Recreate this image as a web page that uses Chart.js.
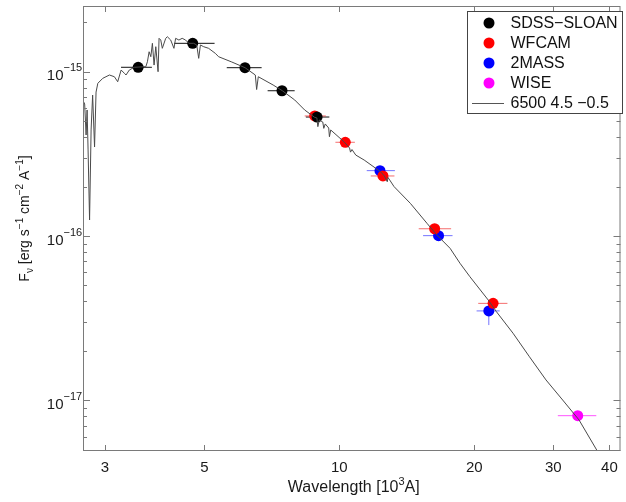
<!DOCTYPE html>
<html>
<head>
<meta charset="utf-8">
<script src="https://cdn.jsdelivr.net/npm/chart.js@4.4.0/dist/chart.umd.min.js"></script>
<style>
html, body { margin: 0; padding: 0; background: #fff; }
#wrap { width: 626px; height: 502px; position: relative; }
</style>
</head>
<body>
<div id="wrap"><canvas id="sed"></canvas></div>
<script>
// wavelengths in 10^3 A, fluxes in erg s^-1 cm^-2 A^-1
const sdssWl   = [3.56, 4.71, 6.16, 7.45, 8.92];
const sdssFlux = [1.064e-15, 1.489e-15, 1.058e-15, 7.66e-16, 5.30e-16];
const sdssLo   = [3.26, 4.28, 5.61, 6.92, 8.42];
const sdssHi   = [3.82, 5.27, 6.71, 7.95, 9.50];

const wfcamWl   = [8.81, 10.31, 12.51, 16.31, 22.02];
const wfcamFlux = [5.38e-16, 3.72e-16, 2.32e-16, 1.107e-16, 3.89e-17];
const wfcamLo   = [8.37, 9.80, 11.75, 15.03, 20.4];
const wfcamHi   = [9.33, 10.83, 13.27, 17.75, 23.7];

const tmassWl     = [12.32, 16.64, 21.54];
const tmassFlux   = [2.50e-16, 1.005e-16, 3.50e-17];
const tmassLo     = [11.51, 15.37, 20.23];
const tmassHi     = [13.3, 17.88, 22.78];
const tmassFluxLo = [2.50e-16, 1.005e-16, 2.87e-17];
const tmassFluxHi = [2.50e-16, 1.005e-16, 4.08e-17];

const wiseWl   = [34.0];
const wiseFlux = [8.06e-18];
const wiseLo   = [30.7];
const wiseHi   = [37.4];

// model spectrum 6500 4.5 -0.5
const modelWl = [2.678, 2.705, 2.725, 2.739, 2.753, 2.774, 2.796, 2.818, 2.846, 2.868,
  2.894, 2.969, 3.072, 3.151, 3.205, 3.262, 3.317, 3.345, 3.402, 3.490,
  3.703, 3.733, 3.766, 3.799, 3.830, 3.863, 3.897, 3.943, 3.963, 3.998,
  4.030, 4.101, 4.135, 4.207, 4.278, 4.315, 4.388, 4.463, 4.541, 4.618,
  4.736, 4.809, 4.858, 4.900, 4.983, 5.111, 5.290, 5.380, 5.756, 6.163,
  6.496, 6.540, 6.596, 7.119, 7.464, 7.953, 8.369, 8.806, 8.910, 8.955,
  9.023, 9.185, 9.232, 9.302, 9.469, 9.504, 9.567, 10.26, 10.54, 10.59,
  10.67, 10.88, 11.36, 12.36, 12.60, 12.79, 12.84, 13.24, 14.40, 15.68,
  16.50, 17.66, 18.58, 19.55, 21.47, 22.40, 24.39, 26.54, 28.89, 31.47,
  34.23, 37.60, 41.28];
const modelFlux = [6.73e-16, 6.36e-16, 4.12e-16, 5.85e-16, 3.34e-16, 1.252e-16, 4.42e-16, 7.21e-16, 3.48e-16, 7.52e-16,
  8.50e-16, 9.12e-16, 9.55e-16, 9.32e-16, 8.69e-16, 1.024e-15, 9.78e-16, 9.55e-16, 1.024e-15, 1.064e-15,
  1.073e-15, 1.150e-15, 1.323e-15, 1.234e-15, 1.489e-15, 1.098e-15, 1.420e-15, 1.00e-15, 1.597e-15, 1.559e-15,
  1.388e-15, 1.597e-15, 1.633e-15, 1.559e-15, 1.388e-15, 1.597e-15, 1.559e-15, 1.597e-15, 1.559e-15, 1.489e-15,
  1.489e-15, 1.454e-15, 1.206e-15, 1.454e-15, 1.420e-15, 1.388e-15, 1.294e-15, 1.234e-15, 1.146e-15, 1.058e-15,
  9.55e-16, 7.79e-16, 9.32e-16, 8.30e-16, 7.66e-16, 6.73e-16, 5.85e-16, 5.28e-16, 5.23e-16, 4.63e-16,
  5.08e-16, 4.94e-16, 4.52e-16, 4.81e-16, 4.54e-16, 4.02e-16, 4.42e-16, 3.73e-16, 3.43e-16, 3.24e-16,
  3.36e-16, 3.11e-16, 2.90e-16, 2.46e-16, 2.32e-16, 2.14e-16, 2.27e-16, 2.00e-16, 1.58e-16, 1.195e-16,
  1.014e-16, 8.41e-17, 6.82e-17, 5.65e-17, 4.08e-17, 3.46e-17, 2.56e-17, 1.84e-17, 1.33e-17, 1.004e-17,
  7.59e-18, 4.91e-18, 3.27e-18];

const xTicks = [3, 5, 10, 20, 30, 40];
const yDecades = [-18, -17, -16, -15];
const yLabelExp = [-17, -16, -15];

const FONT = '"Liberation Sans", Arial, sans-serif';
const AXIS = '#7a7a7a';

function xy(xs, ys) { return xs.map((v, i) => ({x: v, y: ys[i]})); }

const photSets = [
  {name: 'SDSS\u2212SLOAN', color: '#000000', bar: '#111111', wl: sdssWl, flux: sdssFlux, lo: sdssLo, hi: sdssHi},
  {name: 'WFCAM', color: '#ff0000', bar: 'rgba(240,60,60,0.75)', wl: wfcamWl, flux: wfcamFlux, lo: wfcamLo, hi: wfcamHi},
  {name: '2MASS', color: '#0000ff', bar: 'rgba(70,70,255,0.75)', wl: tmassWl, flux: tmassFlux, lo: tmassLo, hi: tmassHi,
    fLo: tmassFluxLo, fHi: tmassFluxHi},
  {name: 'WISE', color: '#ff00ff', bar: 'rgba(255,40,255,0.8)', wl: wiseWl, flux: wiseFlux, lo: wiseLo, hi: wiseHi}
];

// text with super/subscripts: parts = [[text, 0|1|-1], ...]
function richWidth(ctx, parts, size) {
  let w = 0;
  parts.forEach(p => {
    ctx.font = (p[1] ? Math.round(size * 0.7) : size) + 'px ' + FONT;
    w += ctx.measureText(p[0]).width;
  });
  return w;
}
function drawRich(ctx, parts, x, y, size) {
  let cx = x;
  parts.forEach(p => {
    const s = p[1] ? Math.round(size * 0.7) : size;
    ctx.font = s + 'px ' + FONT;
    const dy = p[1] === 1 ? -size * 0.42 : (p[1] === -1 ? size * 0.28 : 0);
    ctx.fillText(p[0], cx, y + dy);
    cx += ctx.measureText(p[0]).width;
  });
}

const errorBars = {
  id: 'errorBars',
  beforeDatasetsDraw(chart) {
    const {ctx, scales: {x, y}} = chart;
    ctx.save();
    ctx.lineWidth = 1;
    photSets.forEach(s => {
      ctx.strokeStyle = s.bar;
      s.wl.forEach((w, i) => {
        const px = x.getPixelForValue(w);
        const py = y.getPixelForValue(s.flux[i]);
        ctx.beginPath();
        ctx.moveTo(x.getPixelForValue(s.lo[i]), py);
        ctx.lineTo(x.getPixelForValue(s.hi[i]), py);
        if (s.fLo) {
          ctx.moveTo(px, y.getPixelForValue(s.fLo[i]));
          ctx.lineTo(px, y.getPixelForValue(s.fHi[i]));
        }
        ctx.stroke();
      });
    });
    ctx.restore();
  }
};

const frame = {
  id: 'frame',
  afterDraw(chart) {
    const {ctx, chartArea: a, scales: {x, y}} = chart;
    ctx.save();
    ctx.strokeStyle = AXIS;
    ctx.lineWidth = 1;
    ctx.strokeRect(a.left + 0.5, a.top + 0.5, a.right - a.left - 1, a.bottom - a.top - 1);

    ctx.beginPath();
    xTicks.forEach(t => {
      const px = Math.round(x.getPixelForValue(t)) + 0.5;
      ctx.moveTo(px, a.bottom); ctx.lineTo(px, a.bottom - 6);
      ctx.moveTo(px, a.top); ctx.lineTo(px, a.top + 6);
    });
    yDecades.forEach(d => {
      for (let m = 1; m <= 9; m++) {
        const v = m * Math.pow(10, d);
        if (v < y.min || v > y.max) continue;
        const py = Math.round(y.getPixelForValue(v)) + 0.5;
        const len = m === 1 ? 7 : 4;
        ctx.moveTo(a.left, py); ctx.lineTo(a.left + len, py);
        ctx.moveTo(a.right, py); ctx.lineTo(a.right - len, py);
      }
    });
    ctx.stroke();

    ctx.fillStyle = '#1a1a1a';
    ctx.textAlign = 'center';
    ctx.textBaseline = 'alphabetic';
    ctx.font = '15px ' + FONT;
    xTicks.forEach(t => ctx.fillText(String(t), x.getPixelForValue(t), a.bottom + 21));

    yLabelExp.forEach(e => {
      const py = y.getPixelForValue(Math.pow(10, e));
      ctx.textAlign = 'right';
      ctx.font = '15px ' + FONT;
      ctx.fillText('10', 63.5, py + 8.5);
      ctx.textAlign = 'left';
      ctx.font = '11px ' + FONT;
      ctx.fillText('\u2212' + Math.abs(e), 63.5, py - 0.5);
    });

    // axis titles
    ctx.textAlign = 'left';
    const xt = [['Wavelength [10', 0], ['3', 1], ['A]', 0]];
    const xw = richWidth(ctx, xt, 16);
    drawRich(ctx, xt, (a.left + a.right) / 2 - xw / 2 + 2, 491.5, 16);

    const yt = [['F', 0], ['\u03bd', -1], [' [erg s', 0], ['\u22121', 1], [' cm', 0], ['\u22122', 1],
      [' A', 0], ['\u22121', 1], [']', 0]];
    const yw = richWidth(ctx, yt, 14);
    ctx.translate(29, 218.5);
    ctx.rotate(-Math.PI / 2);
    drawRich(ctx, yt, -yw / 2, 0, 14);
    ctx.restore();

    // legend
    ctx.save();
    ctx.fillStyle = '#fff';
    ctx.fillRect(467, 11, 156, 103);
    ctx.strokeStyle = '#444';
    ctx.lineWidth = 1;
    ctx.strokeRect(467.5, 11.5, 155, 102);
    ctx.font = '16px ' + FONT;
    ctx.textBaseline = 'middle';
    ctx.textAlign = 'left';
    photSets.forEach((s, i) => {
      const ly = 23 + i * 20;
      ctx.fillStyle = s.color;
      ctx.beginPath();
      ctx.arc(489, ly, 5.5, 0, Math.PI * 2);
      ctx.fill();
      ctx.fillStyle = '#111';
      ctx.fillText(s.name, 510.5, ly + 1);
    });
    ctx.strokeStyle = '#555';
    ctx.beginPath();
    ctx.moveTo(472, 103.5); ctx.lineTo(504, 103.5);
    ctx.stroke();
    ctx.fillStyle = '#111';
    ctx.fillText('6500 4.5 \u22120.5', 510.5, 104);
    ctx.restore();
  }
};

const datasets = [
  {type: 'line', label: '6500 4.5 \u22120.5', data: xy(modelWl, modelFlux), borderColor: '#4a4a4a',
    borderWidth: 1, pointRadius: 0, tension: 0, fill: false}
].concat(photSets.map(s => ({
  type: 'scatter', label: s.name, data: xy(s.wl, s.flux),
  backgroundColor: s.color, borderWidth: 0, pointRadius: 5.5, pointHoverRadius: 5.5
})));

new Chart(document.getElementById('sed'), {
  data: {datasets: datasets},
  options: {
    responsive: true,
    maintainAspectRatio: false,
    animation: false,
    layout: {padding: {left: 83, right: 1, top: 6, bottom: 51}},
    scales: {
      x: {type: 'logarithmic', min: 2.682, max: 42.35, display: false},
      y: {type: 'logarithmic', min: 4.913e-18, max: 2.512e-15, display: false}
    },
    plugins: {legend: {display: false}, tooltip: {enabled: false}}
  },
  plugins: [errorBars, frame]
});
</script>
</body>
</html>
